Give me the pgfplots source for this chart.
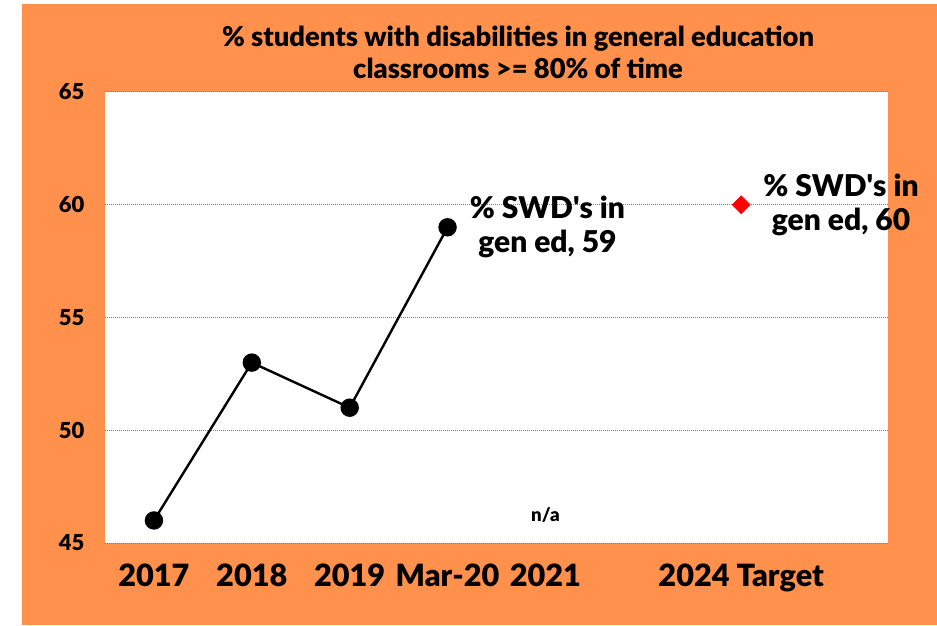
\documentclass[border=0pt]{standalone}
\usepackage{fontspec}
\setmainfont{Lato}[BoldFont={Lato Black}]
\usepackage{pgfplots}
\pgfplotsset{compat=1.18}
\definecolor{bgorange}{RGB}{255,145,77}
\begin{document}
\begin{tikzpicture}[x=0.75pt,y=0.75pt]
\fill[white] (0,0) rectangle (937,625);
\fill[bgorange] (22,0) rectangle (937,621);
\useasboundingbox (0,0) rectangle (937,625);
\node[align=center, font=\bfseries\fontsize{20.5}{24}\selectfont] at (518,573) {\% students with disabilities in general education\\classrooms >= 80\% of time};
\begin{axis}[
 at={(78.75pt,61.5pt)}, anchor=south west,
 scale only axis, width=587.25pt, height=338.25pt,
 xmin=-0.5, xmax=7.5, ymin=45, ymax=65,
 axis background/.style={fill=white},
 axis line style={draw=none},
 xtick={0,1,2,3,4,6}, xticklabels={2017,2018,2019,Mar-20,2021,2024 Target},
 ytick={45,50,55,60,65},
 major tick length=0pt,
 ymajorgrids, grid style={gray, line width=0.75pt, dash pattern=on 0.75pt off 0.75pt},
 xticklabel style={font=\bfseries\fontsize{23}{24}\selectfont, yshift=-12pt},
 yticklabel style={font=\bfseries\fontsize{16.5}{20}\selectfont, xshift=-12pt},
 /pgf/number format/assume math mode=true,
 clip=false,
]
\addplot[black, line width=1.8pt, mark=*, mark size=6pt, mark options={fill=black}] coordinates {(0,46)(1,53)(2,51)(3,59)};
\addplot[only marks, mark=square*, mark size=4.8pt, mark options={rotate=45}, color=red] coordinates {(6,60)};
\node[anchor=west, inner sep=0pt, xshift=16.5pt, align=center, font=\bfseries\fontsize{22.5}{25.5}\selectfont] at (axis cs:3,59) {\% SWD\textquotesingle s in\\gen ed, 59};
\node[anchor=west, inner sep=0pt, xshift=16.5pt, align=center, font=\bfseries\fontsize{22.5}{25.5}\selectfont] at (axis cs:6,60) {\% SWD\textquotesingle s in\\gen ed, 60};
\node[font=\bfseries\fontsize{14}{17}\selectfont] at (axis cs:4,46.25) {n/a};
\end{axis}
\end{tikzpicture}
\end{document}
